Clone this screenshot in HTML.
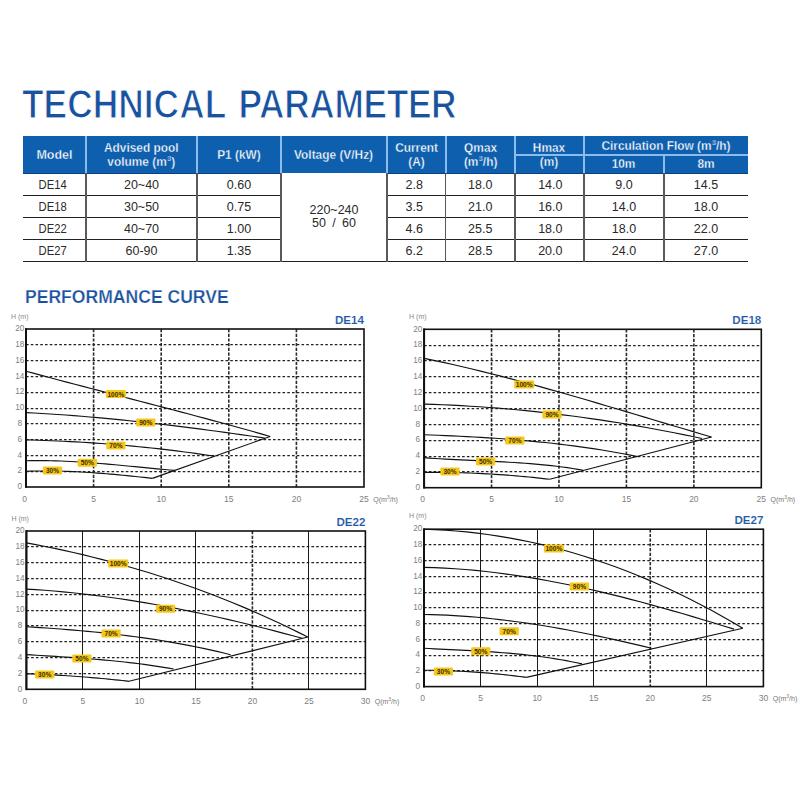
<!DOCTYPE html>
<html><head><meta charset="utf-8">
<style>
html,body{margin:0;padding:0;background:#fff;}
body{width:800px;height:800px;position:relative;overflow:hidden;font-family:"Liberation Sans",sans-serif;}
.t1{position:absolute;left:22px;top:81.2px;font-size:40.5px;font-weight:bold;color:#1b529f;white-space:nowrap;transform:scaleX(0.873);transform-origin:0 0;-webkit-text-stroke:1.2px #fff;paint-order:normal;}
.t2{position:absolute;left:24.8px;top:287px;font-size:18px;font-weight:bold;color:#1b529f;white-space:nowrap;transform:scaleX(0.976);transform-origin:0 0;-webkit-text-stroke:0.25px #fff;}
.hbg{position:absolute;background:#0e60ae;}
.hdv{position:absolute;width:2px;background:#8cbcee;}
.hdh{position:absolute;height:2px;background:#8cbcee;}
.hc{position:absolute;display:flex;align-items:center;justify-content:center;text-align:center;color:#fff;font-weight:bold;font-size:12.5px;line-height:13.5px;}
.hc span{position:relative;top:1px;-webkit-text-stroke:0.35px #0e60ae;display:inline-block;transform:scaleX(0.95);}
.hc.m0 span{transform:none;}
.hc sup{font-size:7.5px;line-height:0;vertical-align:baseline;position:relative;top:-5px;margin-left:0.5px;}
.bh{position:absolute;height:1.2px;background:#222;}
.bv{position:absolute;width:1.6px;background:#5a5a5a;}
.vbg{position:absolute;background:#fff;}
.bc{position:absolute;display:flex;align-items:center;justify-content:center;text-align:center;color:#2a2a2a;font-size:12.5px;line-height:13px;}
.bc span{position:relative;top:1px;}
.vc span{top:-0.5px;}
.c0 span{left:-1.5px;display:inline-block;transform:scaleX(0.9);}
.c4 span{left:-2px;}
.c6 span{left:0.8px;}
svg{position:absolute;left:0;top:0;}
.gh{stroke:#222;stroke-width:1.25;stroke-dasharray:2.6 2.15;}
.gv{stroke:#2a2a2a;stroke-width:1.6;stroke-dasharray:3.2 1.5;}
.gs{stroke:#1a1a1a;stroke-width:1;}
.fr{fill:none;stroke:#111;stroke-width:1.6;}
.fl{stroke:#111;stroke-width:2;}
.cv{fill:none;stroke:#111;stroke-width:1.15;}
.lb{fill:#f5c71a;}
.lt{font-size:6.6px;font-weight:bold;fill:#3b2f00;text-anchor:middle;}
.ya{font-size:8.2px;fill:#808080;text-anchor:middle;}
.xa{font-size:8.5px;fill:#808080;text-anchor:middle;}
.xq{font-size:7px;fill:#777;}
.hm{font-size:7px;fill:#888;}
.cn{font-size:11.6px;font-weight:bold;fill:#2258a6;stroke:#fff;stroke-width:0.12px;text-anchor:end;}
</style></head><body>
<div class="t1">TECHNICAL<span style="margin-left:14px;letter-spacing:-0.45px">PARAMETER</span></div>
<div class="hbg" style="left:23px;top:136.2px;width:725px;height:36.80000000000001px"></div><div class="hdv" style="left:85px;top:136.2px;height:36.8px"></div><div class="hdv" style="left:196px;top:136.2px;height:36.8px"></div><div class="hdv" style="left:280px;top:136.2px;height:36.8px"></div><div class="hdv" style="left:386px;top:136.2px;height:36.8px"></div><div class="hdv" style="left:444.5px;top:136.2px;height:36.8px"></div><div class="hdv" style="left:514px;top:136.2px;height:36.8px"></div><div class="hdv" style="left:583px;top:136.2px;height:36.8px"></div><div class="hdv" style="left:663px;top:154px;height:19px"></div><div class="hdh" style="left:515px;top:154px;width:233px"></div><div style="position:absolute;left:23px;top:172.8px;width:725px;height:1.1px;background:#0b3f7e"></div><div class="hc m0" style="left:23px;top:136.2px;width:63px;height:36.8px"><span>Model</span></div><div class="hc m1" style="left:86px;top:136.2px;width:111px;height:36.8px"><span>Advised pool<br>volume (m<sup>3</sup>)</span></div><div class="hc m2" style="left:197px;top:136.2px;width:84px;height:36.8px"><span>P1 (kW)</span></div><div class="hc m3" style="left:281px;top:136.2px;width:106px;height:36.8px"><span>Voltage (V/Hz)</span></div><div class="hc m4" style="left:387px;top:136.2px;width:58.5px;height:36.8px"><span>Current<br>(A)</span></div><div class="hc m5" style="left:445.5px;top:136.2px;width:69.5px;height:36.8px"><span>Qmax<br>(m<sup>3</sup>/h)</span></div><div class="hc m6" style="left:515px;top:136.2px;width:69px;height:36.8px"><span>Hmax<br>(m)</span></div><div class="hc m7" style="left:584px;top:136.2px;width:164px;height:18.6px"><span>Circulation Flow (m<sup>3</sup>/h)</span></div><div class="hc m7" style="left:584px;top:154.8px;width:80px;height:18.2px"><span>10m</span></div><div class="hc m8" style="left:664px;top:154.8px;width:84px;height:18.2px"><span>8m</span></div><div class="bh" style="left:23px;top:194.9px;width:725px"></div><div class="bh" style="left:23px;top:216.9px;width:725px"></div><div class="bh" style="left:23px;top:238.9px;width:725px"></div><div class="bh" style="left:23px;top:260.9px;width:725px"></div><div class="bv" style="left:85.2px;top:173px;height:88.5px"></div><div class="bv" style="left:196.2px;top:173px;height:88.5px"></div><div class="bv" style="left:280.2px;top:173px;height:88.5px"></div><div class="bv" style="left:386.2px;top:173px;height:88.5px"></div><div class="bv" style="left:444.7px;top:173px;height:88.5px"></div><div class="bv" style="left:514.2px;top:173px;height:88.5px"></div><div class="bv" style="left:583.2px;top:173px;height:88.5px"></div><div class="bv" style="left:663.2px;top:173px;height:88.5px"></div><div class="vbg" style="left:281.8px;top:173px;width:104.4px;height:87.5px"></div><div class="bc c0" style="left:23px;top:173px;width:63px;height:22.5px"><span>DE14</span></div><div class="bc c1" style="left:86px;top:173px;width:111px;height:22.5px"><span>20~40</span></div><div class="bc c2" style="left:197px;top:173px;width:84px;height:22.5px"><span>0.60</span></div><div class="bc c4" style="left:387px;top:173px;width:58.5px;height:22.5px"><span>2.8</span></div><div class="bc c5" style="left:445.5px;top:173px;width:69.5px;height:22.5px"><span>18.0</span></div><div class="bc c6" style="left:515px;top:173px;width:69px;height:22.5px"><span>14.0</span></div><div class="bc c7" style="left:584px;top:173px;width:80px;height:22.5px"><span>9.0</span></div><div class="bc c8" style="left:664px;top:173px;width:84px;height:22.5px"><span>14.5</span></div><div class="bc c0" style="left:23px;top:195.5px;width:63px;height:22px"><span>DE18</span></div><div class="bc c1" style="left:86px;top:195.5px;width:111px;height:22px"><span>30~50</span></div><div class="bc c2" style="left:197px;top:195.5px;width:84px;height:22px"><span>0.75</span></div><div class="bc c4" style="left:387px;top:195.5px;width:58.5px;height:22px"><span>3.5</span></div><div class="bc c5" style="left:445.5px;top:195.5px;width:69.5px;height:22px"><span>21.0</span></div><div class="bc c6" style="left:515px;top:195.5px;width:69px;height:22px"><span>16.0</span></div><div class="bc c7" style="left:584px;top:195.5px;width:80px;height:22px"><span>14.0</span></div><div class="bc c8" style="left:664px;top:195.5px;width:84px;height:22px"><span>18.0</span></div><div class="bc c0" style="left:23px;top:217.5px;width:63px;height:22px"><span>DE22</span></div><div class="bc c1" style="left:86px;top:217.5px;width:111px;height:22px"><span>40~70</span></div><div class="bc c2" style="left:197px;top:217.5px;width:84px;height:22px"><span>1.00</span></div><div class="bc c4" style="left:387px;top:217.5px;width:58.5px;height:22px"><span>4.6</span></div><div class="bc c5" style="left:445.5px;top:217.5px;width:69.5px;height:22px"><span>25.5</span></div><div class="bc c6" style="left:515px;top:217.5px;width:69px;height:22px"><span>18.0</span></div><div class="bc c7" style="left:584px;top:217.5px;width:80px;height:22px"><span>18.0</span></div><div class="bc c8" style="left:664px;top:217.5px;width:84px;height:22px"><span>22.0</span></div><div class="bc c0" style="left:23px;top:239.5px;width:63px;height:22px"><span>DE27</span></div><div class="bc c1" style="left:86px;top:239.5px;width:111px;height:22px"><span>60-90</span></div><div class="bc c2" style="left:197px;top:239.5px;width:84px;height:22px"><span>1.35</span></div><div class="bc c4" style="left:387px;top:239.5px;width:58.5px;height:22px"><span>6.2</span></div><div class="bc c5" style="left:445.5px;top:239.5px;width:69.5px;height:22px"><span>28.5</span></div><div class="bc c6" style="left:515px;top:239.5px;width:69px;height:22px"><span>20.0</span></div><div class="bc c7" style="left:584px;top:239.5px;width:80px;height:22px"><span>24.0</span></div><div class="bc c8" style="left:664px;top:239.5px;width:84px;height:22px"><span>27.0</span></div><div class="bc vc" style="left:281px;top:173px;width:106px;height:88.5px"><span>220~240<br>50&ensp;/&ensp;60</span></div>
<div class="t2">PERFORMANCE CURVE</div>
<svg width="800" height="800" viewBox="0 0 800 800" font-family="Liberation Sans, sans-serif">
<line x1="26" y1="471.5" x2="364" y2="471.5" class="gh"/>
<line x1="26" y1="455.5" x2="364" y2="455.5" class="gh"/>
<line x1="26" y1="439.5" x2="364" y2="439.5" class="gh"/>
<line x1="26" y1="423.5" x2="364" y2="423.5" class="gh"/>
<line x1="26" y1="408.5" x2="364" y2="408.5" class="gh"/>
<line x1="26" y1="392.5" x2="364" y2="392.5" class="gh"/>
<line x1="26" y1="376.5" x2="364" y2="376.5" class="gh"/>
<line x1="26" y1="360.5" x2="364" y2="360.5" class="gh"/>
<line x1="26" y1="344.5" x2="364" y2="344.5" class="gh"/>
<line x1="93.6" y1="329" x2="93.6" y2="487" class="gv"/>
<line x1="161.2" y1="329" x2="161.2" y2="487" class="gv"/>
<line x1="228.8" y1="329" x2="228.8" y2="487" class="gv"/>
<line x1="296.4" y1="329" x2="296.4" y2="487" class="gv"/>
<rect x="26" y="329" width="338" height="158" class="fr"/>
<line x1="26" y1="328.2" x2="26" y2="487.8" class="fl"/>
<polyline points="26,371.19 34.14,373.41 42.28,375.61 50.42,377.8 58.56,379.97 66.7,382.13 74.83,384.28 82.97,386.42 91.11,388.55 99.25,390.68 107.39,392.8 115.53,394.91 123.67,397.03 131.81,399.14 139.95,401.25 148.09,403.37 156.22,405.49 164.36,407.62 172.5,409.75 180.64,411.89 188.78,414.04 196.92,416.21 205.06,418.38 213.2,420.57 221.34,422.78 229.48,425 237.62,427.25 245.75,429.51 253.89,431.8 262.03,434.1 270.17,436.44" class="cv"/>
<polyline points="26,412.58 33.95,413 41.91,413.46 49.86,413.95 57.82,414.48 65.77,415.05 73.73,415.65 81.68,416.28 89.63,416.95 97.59,417.64 105.54,418.37 113.5,419.13 121.45,419.91 129.41,420.73 137.36,421.57 145.31,422.44 153.27,423.33 161.22,424.25 169.18,425.19 177.13,426.15 185.09,427.14 193.04,428.15 200.99,429.18 208.95,430.22 216.9,431.29 224.86,432.37 232.81,433.47 240.77,434.59 248.72,435.72 256.67,436.86 264.63,438.02" class="cv"/>
<polyline points="26,439.84 32.27,440.02 38.55,440.22 44.82,440.45 51.09,440.7 57.37,440.97 63.64,441.26 69.91,441.58 76.19,441.92 82.46,442.29 88.73,442.68 95.01,443.09 101.28,443.53 107.55,444 113.83,444.49 120.1,445.01 126.37,445.55 132.65,446.12 138.92,446.72 145.19,447.35 151.47,448.01 157.74,448.69 164.01,449.4 170.29,450.15 176.56,450.92 182.83,451.72 189.11,452.55 195.38,453.41 201.65,454.31 207.93,455.23 214.2,456.19" class="cv"/>
<polyline points="26,460.77 30.95,460.67 35.91,460.62 40.86,460.61 45.81,460.65 50.76,460.74 55.72,460.87 60.67,461.03 65.62,461.24 70.58,461.48 75.53,461.75 80.48,462.05 85.43,462.37 90.39,462.73 95.34,463.11 100.29,463.5 105.25,463.92 110.2,464.35 115.15,464.8 120.1,465.26 125.06,465.72 130.01,466.2 134.96,466.68 139.92,467.16 144.87,467.64 149.82,468.12 154.77,468.6 159.73,469.06 164.68,469.52 169.63,469.97 174.58,470.41" class="cv"/>
<polyline points="26,471.2 30.21,471.1 34.43,471.02 38.64,470.98 42.85,470.96 47.07,470.97 51.28,471.01 55.5,471.08 59.71,471.17 63.92,471.29 68.14,471.43 72.35,471.6 76.56,471.79 80.78,472 84.99,472.24 89.21,472.49 93.42,472.77 97.63,473.06 101.85,473.38 106.06,473.71 110.27,474.06 114.49,474.43 118.7,474.81 122.92,475.21 127.13,475.63 131.34,476.06 135.56,476.5 139.77,476.95 143.98,477.42 148.2,477.9 152.41,478.39" class="cv"/>
<path d="M152.41 478.39L270.17 436.44" class="cv"/>
<rect x="105.9" y="390.1" width="20" height="8.0" rx="1" class="lb"/>
<text x="115.9" y="396.5" class="lt">100%</text>
<rect x="136.2" y="418.4" width="19.2" height="8.0" rx="1" class="lb"/>
<text x="145.8" y="424.8" class="lt">90%</text>
<rect x="106.3" y="441.5" width="19.2" height="8.0" rx="1" class="lb"/>
<text x="115.9" y="447.9" class="lt">70%</text>
<rect x="77.7" y="458.7" width="19.2" height="8.0" rx="1" class="lb"/>
<text x="87.3" y="465.1" class="lt">50%</text>
<rect x="42.9" y="466.5" width="19.2" height="8.0" rx="1" class="lb"/>
<text x="52.5" y="472.9" class="lt">30%</text>
<text x="19.7" y="489.2" class="ya">0</text>
<text x="19.7" y="473.4" class="ya">2</text>
<text x="19.7" y="457.6" class="ya">4</text>
<text x="19.7" y="441.8" class="ya">6</text>
<text x="19.7" y="426" class="ya">8</text>
<text x="19.7" y="410.2" class="ya">10</text>
<text x="19.7" y="394.4" class="ya">12</text>
<text x="19.7" y="378.6" class="ya">14</text>
<text x="19.7" y="362.8" class="ya">16</text>
<text x="19.7" y="347" class="ya">18</text>
<text x="19.7" y="331.2" class="ya">20</text>
<text x="24.5" y="501.5" class="xa">0</text>
<text x="93.6" y="501.5" class="xa">5</text>
<text x="161.2" y="501.5" class="xa">10</text>
<text x="228.8" y="501.5" class="xa">15</text>
<text x="296.4" y="501.5" class="xa">20</text>
<text x="364" y="501.5" class="xa">25</text>
<text x="373.3" y="501.5" class="xq">Q(m<tspan dy="-3" font-size="5">3</tspan><tspan dy="3">/h)</tspan></text>
<text x="11" y="319" class="hm">H (m)</text>
<text x="364" y="324" class="cn">DE14</text>
<line x1="424.1" y1="471.5" x2="761.3" y2="471.5" class="gh"/>
<line x1="424.1" y1="456.5" x2="761.3" y2="456.5" class="gh"/>
<line x1="424.1" y1="440.5" x2="761.3" y2="440.5" class="gh"/>
<line x1="424.1" y1="424.5" x2="761.3" y2="424.5" class="gh"/>
<line x1="424.1" y1="408.5" x2="761.3" y2="408.5" class="gh"/>
<line x1="424.1" y1="392.5" x2="761.3" y2="392.5" class="gh"/>
<line x1="424.1" y1="376.5" x2="761.3" y2="376.5" class="gh"/>
<line x1="424.1" y1="360.5" x2="761.3" y2="360.5" class="gh"/>
<line x1="424.1" y1="345.5" x2="761.3" y2="345.5" class="gh"/>
<line x1="491.54" y1="329.3" x2="491.54" y2="487.7" class="gv"/>
<line x1="558.98" y1="329.3" x2="558.98" y2="487.7" class="gv"/>
<line x1="626.42" y1="329.3" x2="626.42" y2="487.7" class="gv"/>
<line x1="693.86" y1="329.3" x2="693.86" y2="487.7" class="gv"/>
<rect x="424.1" y="329.3" width="337.2" height="158.4" class="fr"/>
<line x1="424.1" y1="328.5" x2="424.1" y2="488.5" class="fl"/>
<polyline points="424.1,358.37 433.68,360.36 443.26,362.42 452.84,364.55 462.42,366.76 472,369.02 481.59,371.35 491.17,373.74 500.75,376.18 510.33,378.67 519.91,381.21 529.49,383.79 539.07,386.42 548.65,389.08 558.23,391.78 567.81,394.51 577.4,397.27 586.98,400.05 596.56,402.86 606.14,405.68 615.72,408.52 625.3,411.37 634.88,414.23 644.46,417.09 654.04,419.96 663.62,422.83 673.21,425.69 682.79,428.54 692.37,431.38 701.95,434.21 711.53,437.01" class="cv"/>
<polyline points="424.1,404.06 433.36,404.37 442.62,404.74 451.89,405.17 461.15,405.65 470.41,406.2 479.67,406.8 488.93,407.46 498.19,408.18 507.46,408.96 516.72,409.8 525.98,410.69 535.24,411.64 544.5,412.65 553.76,413.72 563.03,414.85 572.29,416.03 581.55,417.27 590.81,418.56 600.07,419.92 609.34,421.33 618.6,422.8 627.86,424.32 637.12,425.9 646.38,427.53 655.64,429.23 664.91,430.97 674.17,432.78 683.43,434.63 692.69,436.55 701.95,438.52" class="cv"/>
<polyline points="424.1,434.72 431.21,434.98 438.33,435.26 445.44,435.56 452.55,435.87 459.66,436.21 466.78,436.57 473.89,436.96 481,437.37 488.11,437.81 495.23,438.28 502.34,438.78 509.45,439.31 516.56,439.88 523.68,440.48 530.79,441.12 537.9,441.81 545.02,442.53 552.13,443.3 559.24,444.12 566.35,444.98 573.47,445.89 580.58,446.85 587.69,447.86 594.8,448.93 601.92,450.05 609.03,451.24 616.14,452.48 623.25,453.78 630.37,455.14 637.48,456.57" class="cv"/>
<polyline points="424.1,457.68 429.41,458.09 434.71,458.46 440.02,458.8 445.32,459.12 450.63,459.41 455.93,459.68 461.24,459.94 466.54,460.19 471.85,460.43 477.15,460.67 482.46,460.91 487.76,461.15 493.07,461.4 498.37,461.66 503.68,461.93 508.98,462.22 514.29,462.54 519.6,462.88 524.9,463.24 530.21,463.65 535.51,464.08 540.82,464.56 546.12,465.08 551.43,465.65 556.73,466.27 562.04,466.95 567.34,467.68 572.65,468.48 577.95,469.34 583.26,470.28" class="cv"/>
<polyline points="424.1,472.41 428.29,472.38 432.47,472.36 436.66,472.37 440.84,472.39 445.03,472.42 449.21,472.48 453.4,472.56 457.59,472.65 461.77,472.76 465.96,472.89 470.14,473.04 474.33,473.2 478.52,473.39 482.7,473.59 486.89,473.81 491.07,474.05 495.26,474.31 499.44,474.58 503.63,474.88 507.82,475.19 512,475.52 516.19,475.86 520.37,476.23 524.56,476.62 528.74,477.02 532.93,477.44 537.12,477.88 541.3,478.34 545.49,478.81 549.67,479.3" class="cv"/>
<path d="M549.67 479.3L711.53 437.01" class="cv"/>
<rect x="514.2" y="380.5" width="20" height="8.0" rx="1" class="lb"/>
<text x="524.2" y="386.9" class="lt">100%</text>
<rect x="542.4" y="410.5" width="19.2" height="8.0" rx="1" class="lb"/>
<text x="552" y="416.9" class="lt">90%</text>
<rect x="505.3" y="436.4" width="19.2" height="8.0" rx="1" class="lb"/>
<text x="514.9" y="442.8" class="lt">70%</text>
<rect x="476" y="457.4" width="19.2" height="8.0" rx="1" class="lb"/>
<text x="485.6" y="463.8" class="lt">50%</text>
<rect x="440.4" y="467.5" width="19.2" height="8.0" rx="1" class="lb"/>
<text x="450" y="473.9" class="lt">30%</text>
<text x="417.8" y="489.9" class="ya">0</text>
<text x="417.8" y="474.06" class="ya">2</text>
<text x="417.8" y="458.22" class="ya">4</text>
<text x="417.8" y="442.38" class="ya">6</text>
<text x="417.8" y="426.54" class="ya">8</text>
<text x="417.8" y="410.7" class="ya">10</text>
<text x="417.8" y="394.86" class="ya">12</text>
<text x="417.8" y="379.02" class="ya">14</text>
<text x="417.8" y="363.18" class="ya">16</text>
<text x="417.8" y="347.34" class="ya">18</text>
<text x="417.8" y="331.5" class="ya">20</text>
<text x="422.6" y="502.2" class="xa">0</text>
<text x="491.54" y="502.2" class="xa">5</text>
<text x="558.98" y="502.2" class="xa">10</text>
<text x="626.42" y="502.2" class="xa">15</text>
<text x="693.86" y="502.2" class="xa">20</text>
<text x="761.3" y="502.2" class="xa">25</text>
<text x="770.6" y="502.2" class="xq">Q(m<tspan dy="-3" font-size="5">3</tspan><tspan dy="3">/h)</tspan></text>
<text x="409.1" y="319.3" class="hm">H (m)</text>
<text x="761.3" y="324.3" class="cn">DE18</text>
<line x1="26.4" y1="673.5" x2="365.4" y2="673.5" class="gh"/>
<line x1="26.4" y1="657.5" x2="365.4" y2="657.5" class="gh"/>
<line x1="26.4" y1="641.5" x2="365.4" y2="641.5" class="gh"/>
<line x1="26.4" y1="625.5" x2="365.4" y2="625.5" class="gh"/>
<line x1="26.4" y1="610.5" x2="365.4" y2="610.5" class="gh"/>
<line x1="26.4" y1="594.5" x2="365.4" y2="594.5" class="gh"/>
<line x1="26.4" y1="578.5" x2="365.4" y2="578.5" class="gh"/>
<line x1="26.4" y1="562.5" x2="365.4" y2="562.5" class="gh"/>
<line x1="26.4" y1="546.5" x2="365.4" y2="546.5" class="gh"/>
<line x1="82.5" y1="531" x2="82.5" y2="689.3" class="gs"/>
<line x1="139.5" y1="531" x2="139.5" y2="689.3" class="gs"/>
<line x1="195.5" y1="531" x2="195.5" y2="689.3" class="gs"/>
<line x1="252.4" y1="531" x2="252.4" y2="689.3" class="gv"/>
<line x1="308.5" y1="531" x2="308.5" y2="689.3" class="gs"/>
<rect x="26.4" y="531" width="339" height="158.3" class="fr"/>
<line x1="26.4" y1="530.2" x2="26.4" y2="690.1" class="fl"/>
<polyline points="26.4,542.87 35.78,544.63 45.16,546.46 54.54,548.39 63.92,550.4 73.3,552.49 82.67,554.68 92.05,556.95 101.43,559.32 110.81,561.77 120.19,564.33 129.57,566.97 138.95,569.72 148.33,572.56 157.71,575.5 167.09,578.54 176.46,581.68 185.84,584.92 195.22,588.27 204.6,591.72 213.98,595.29 223.36,598.95 232.74,602.73 242.12,606.62 251.5,610.62 260.88,614.74 270.25,618.97 279.63,623.31 289.01,627.78 298.39,632.36 307.77,637.06" class="cv"/>
<polyline points="26.4,589.1 35.59,589.66 44.78,590.3 53.97,591.04 63.16,591.86 72.35,592.77 81.54,593.77 90.73,594.84 99.93,596 109.12,597.23 118.31,598.54 127.5,599.92 136.69,601.38 145.88,602.91 155.07,604.51 164.26,606.18 173.45,607.92 182.64,609.72 191.83,611.58 201.02,613.51 210.21,615.49 219.4,617.53 228.59,619.63 237.79,621.79 246.98,623.99 256.17,626.25 265.36,628.56 274.55,630.91 283.74,633.32 292.93,635.76 302.12,638.25" class="cv"/>
<polyline points="26.4,626.77 33.21,627.18 40.01,627.6 46.82,628.05 53.63,628.53 60.43,629.03 67.24,629.56 74.04,630.11 80.85,630.7 87.66,631.32 94.46,631.98 101.27,632.67 108.08,633.39 114.88,634.16 121.69,634.97 128.5,635.81 135.3,636.71 142.11,637.65 148.91,638.63 155.72,639.66 162.53,640.75 169.33,641.88 176.14,643.07 182.95,644.32 189.75,645.62 196.56,646.98 203.37,648.4 210.17,649.88 216.98,651.42 223.78,653.03 230.59,654.71" class="cv"/>
<polyline points="26.4,654.63 31.31,654.93 36.22,655.23 41.12,655.52 46.03,655.82 50.94,656.12 55.85,656.43 60.76,656.74 65.66,657.06 70.57,657.39 75.48,657.73 80.39,658.09 85.3,658.45 90.2,658.84 95.11,659.23 100.02,659.65 104.93,660.08 109.84,660.54 114.74,661.02 119.65,661.52 124.56,662.05 129.47,662.6 134.38,663.19 139.28,663.8 144.19,664.44 149.1,665.12 154.01,665.83 158.92,666.57 163.82,667.36 168.73,668.18 173.64,669.04" class="cv"/>
<polyline points="26.4,673.71 29.82,673.83 33.24,673.96 36.66,674.1 40.08,674.25 43.5,674.4 46.92,674.57 50.34,674.74 53.76,674.93 57.18,675.12 60.6,675.33 64.02,675.54 67.44,675.76 70.86,675.99 74.28,676.23 77.7,676.48 81.12,676.74 84.54,677 87.96,677.28 91.38,677.56 94.8,677.86 98.22,678.16 101.64,678.47 105.06,678.8 108.48,679.13 111.9,679.47 115.32,679.82 118.74,680.18 122.16,680.54 125.58,680.92 129,681.31" class="cv"/>
<path d="M129 681.31L307.77 637.06" class="cv"/>
<rect x="108.2" y="559.4" width="20" height="8.0" rx="1" class="lb"/>
<text x="118.2" y="565.8" class="lt">100%</text>
<rect x="155.9" y="604.7" width="19.2" height="8.0" rx="1" class="lb"/>
<text x="165.5" y="611.1" class="lt">90%</text>
<rect x="101.5" y="629.5" width="19.2" height="8.0" rx="1" class="lb"/>
<text x="111.1" y="635.9" class="lt">70%</text>
<rect x="72.3" y="654.6" width="19.2" height="8.0" rx="1" class="lb"/>
<text x="81.9" y="661" class="lt">50%</text>
<rect x="35.1" y="670.4" width="19.2" height="8.0" rx="1" class="lb"/>
<text x="44.7" y="676.8" class="lt">30%</text>
<text x="20.1" y="691.5" class="ya">0</text>
<text x="20.1" y="675.67" class="ya">2</text>
<text x="20.1" y="659.84" class="ya">4</text>
<text x="20.1" y="644.01" class="ya">6</text>
<text x="20.1" y="628.18" class="ya">8</text>
<text x="20.1" y="612.35" class="ya">10</text>
<text x="20.1" y="596.52" class="ya">12</text>
<text x="20.1" y="580.69" class="ya">14</text>
<text x="20.1" y="564.86" class="ya">16</text>
<text x="20.1" y="549.03" class="ya">18</text>
<text x="20.1" y="533.2" class="ya">20</text>
<text x="24.9" y="703.8" class="xa">0</text>
<text x="82.9" y="703.8" class="xa">5</text>
<text x="139.4" y="703.8" class="xa">10</text>
<text x="195.9" y="703.8" class="xa">15</text>
<text x="252.4" y="703.8" class="xa">20</text>
<text x="308.9" y="703.8" class="xa">25</text>
<text x="365.4" y="703.8" class="xa">30</text>
<text x="374.7" y="703.8" class="xq">Q(m<tspan dy="-3" font-size="5">3</tspan><tspan dy="3">/h)</tspan></text>
<text x="11.4" y="521" class="hm">H (m)</text>
<text x="365.4" y="526" class="cn">DE22</text>
<line x1="424" y1="670.5" x2="763.4" y2="670.5" class="gh"/>
<line x1="424" y1="655.5" x2="763.4" y2="655.5" class="gh"/>
<line x1="424" y1="639.5" x2="763.4" y2="639.5" class="gh"/>
<line x1="424" y1="623.5" x2="763.4" y2="623.5" class="gh"/>
<line x1="424" y1="607.5" x2="763.4" y2="607.5" class="gh"/>
<line x1="424" y1="592.5" x2="763.4" y2="592.5" class="gh"/>
<line x1="424" y1="576.5" x2="763.4" y2="576.5" class="gh"/>
<line x1="424" y1="560.5" x2="763.4" y2="560.5" class="gh"/>
<line x1="424" y1="544.5" x2="763.4" y2="544.5" class="gh"/>
<line x1="480.5" y1="529.2" x2="480.5" y2="686.6" class="gs"/>
<line x1="537.5" y1="529.2" x2="537.5" y2="686.6" class="gs"/>
<line x1="593.5" y1="529.2" x2="593.5" y2="686.6" class="gs"/>
<line x1="650.27" y1="529.2" x2="650.27" y2="686.6" class="gv"/>
<line x1="706.5" y1="529.2" x2="706.5" y2="686.6" class="gs"/>
<rect x="424" y="529.2" width="339.4" height="157.4" class="fr"/>
<line x1="424" y1="528.4" x2="424" y2="687.4" class="fl"/>
<polyline points="424,529.2 434.63,529.58 445.25,530.17 455.88,530.95 466.51,531.94 477.13,533.12 487.76,534.51 498.39,536.09 509.02,537.87 519.64,539.86 530.27,542.04 540.9,544.43 551.52,547.02 562.15,549.81 572.78,552.8 583.4,555.99 594.03,559.38 604.66,562.98 615.29,566.78 625.91,570.78 636.54,574.98 647.17,579.39 657.79,584 668.42,588.81 679.05,593.82 689.67,599.04 700.3,604.47 710.93,610.09 721.56,615.92 732.18,621.96 742.81,628.2" class="cv"/>
<polyline points="424,567.37 434.33,567.66 444.67,568.12 455,568.74 465.33,569.51 475.66,570.44 486,571.51 496.33,572.72 506.66,574.08 517,575.56 527.33,577.17 537.66,578.91 547.99,580.76 558.33,582.73 568.66,584.81 578.99,586.99 589.33,589.28 599.66,591.66 609.99,594.13 620.32,596.68 630.66,599.32 640.99,602.04 651.32,604.82 661.66,607.68 671.99,610.6 682.32,613.57 692.65,616.6 702.99,619.68 713.32,622.8 723.65,625.97 733.99,629.15" class="cv"/>
<polyline points="424,614.51 431.58,614.65 439.16,614.88 446.74,615.19 454.32,615.59 461.9,616.06 469.48,616.61 477.06,617.24 484.64,617.94 492.22,618.72 499.8,619.57 507.38,620.48 514.96,621.46 522.54,622.51 530.12,623.62 537.7,624.78 545.28,626.01 552.86,627.3 560.44,628.64 568.02,630.03 575.6,631.47 583.18,632.96 590.76,634.5 598.34,636.09 605.92,637.71 613.5,639.38 621.08,641.09 628.66,642.84 636.24,644.62 643.82,646.43 651.4,648.27" class="cv"/>
<polyline points="424,648.27 429.27,648.55 434.54,648.83 439.8,649.09 445.07,649.35 450.34,649.6 455.61,649.86 460.88,650.12 466.15,650.39 471.41,650.67 476.68,650.96 481.95,651.27 487.22,651.59 492.49,651.94 497.76,652.31 503.02,652.71 508.29,653.14 513.56,653.6 518.83,654.09 524.1,654.63 529.36,655.21 534.63,655.83 539.9,656.5 545.17,657.22 550.44,658 555.71,658.83 560.97,659.72 566.24,660.67 571.51,661.69 576.78,662.78 582.05,663.93" class="cv"/>
<polyline points="424,670.23 427.41,670.25 430.83,670.29 434.24,670.34 437.65,670.4 441.06,670.48 444.48,670.58 447.89,670.69 451.3,670.82 454.72,670.96 458.13,671.11 461.54,671.28 464.95,671.47 468.37,671.67 471.78,671.89 475.19,672.12 478.61,672.36 482.02,672.63 485.43,672.9 488.84,673.19 492.26,673.5 495.67,673.82 499.08,674.16 502.5,674.51 505.91,674.88 509.32,675.26 512.73,675.65 516.15,676.07 519.56,676.49 522.97,676.94 526.39,677.39" class="cv"/>
<path d="M526.39 677.39L742.81 628.2" class="cv"/>
<rect x="543.9" y="544.4" width="20" height="8.0" rx="1" class="lb"/>
<text x="553.9" y="550.8" class="lt">100%</text>
<rect x="569.8" y="582.6" width="19.2" height="8.0" rx="1" class="lb"/>
<text x="579.4" y="589" class="lt">90%</text>
<rect x="499.6" y="627.2" width="19.2" height="8.0" rx="1" class="lb"/>
<text x="509.2" y="633.6" class="lt">70%</text>
<rect x="471.2" y="647.2" width="19.2" height="8.0" rx="1" class="lb"/>
<text x="480.8" y="653.6" class="lt">50%</text>
<rect x="433.8" y="667.6" width="19.2" height="8.0" rx="1" class="lb"/>
<text x="443.4" y="674" class="lt">30%</text>
<text x="417.7" y="688.8" class="ya">0</text>
<text x="417.7" y="673.06" class="ya">2</text>
<text x="417.7" y="657.32" class="ya">4</text>
<text x="417.7" y="641.58" class="ya">6</text>
<text x="417.7" y="625.84" class="ya">8</text>
<text x="417.7" y="610.1" class="ya">10</text>
<text x="417.7" y="594.36" class="ya">12</text>
<text x="417.7" y="578.62" class="ya">14</text>
<text x="417.7" y="562.88" class="ya">16</text>
<text x="417.7" y="547.14" class="ya">18</text>
<text x="417.7" y="531.4" class="ya">20</text>
<text x="422.5" y="701.1" class="xa">0</text>
<text x="480.57" y="701.1" class="xa">5</text>
<text x="537.13" y="701.1" class="xa">10</text>
<text x="593.7" y="701.1" class="xa">15</text>
<text x="650.27" y="701.1" class="xa">20</text>
<text x="706.83" y="701.1" class="xa">25</text>
<text x="763.4" y="701.1" class="xa">30</text>
<text x="772.7" y="701.1" class="xq">Q(m<tspan dy="-3" font-size="5">3</tspan><tspan dy="3">/h)</tspan></text>
<text x="409" y="517.8" class="hm">H (m)</text>
<text x="763.4" y="524.2" class="cn">DE27</text>
</svg>
</body></html>
